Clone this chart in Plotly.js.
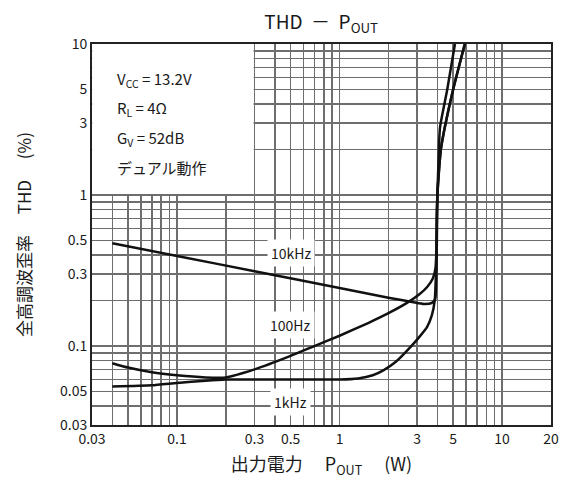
<!DOCTYPE html>
<html>
<head>
<meta charset="utf-8">
<script src="https://cdn.plot.ly/plotly-3.0.1.min.js"></script>
<style>html,body{margin:0;padding:0;background:#fff;}#chart{width:561px;height:490px;}</style>
</head>
<body>
<div id="chart"></div>
<script>
// Series (Pout in W, THD in %)
const x10k = [0.04, 0.1, 0.3, 1.0, 2.0, 2.8, 3.3, 3.7, 3.88, 3.94, 3.97, 4.0, 4.05, 4.15, 4.6, 5.13];
const y10k = [0.48, 0.395, 0.313, 0.242, 0.209, 0.196, 0.19, 0.193, 0.205, 0.3, 0.5, 1.0, 1.5, 2.8, 5.0, 10.0];

const x100 = [0.04, 0.05, 0.07, 0.1, 0.15, 0.2, 0.3, 0.5, 0.7, 1.0, 1.5, 2.0, 2.6, 3.1, 3.46, 3.75, 3.9, 3.95, 3.97, 4.0, 4.1, 4.2, 4.44, 5.0, 5.9];
const y100 = [0.077, 0.072, 0.067, 0.064, 0.062, 0.062, 0.07, 0.086, 0.1, 0.117, 0.142, 0.165, 0.193, 0.22, 0.246, 0.28, 0.33, 0.45, 0.8, 1.0, 1.5, 2.0, 2.8, 5.0, 10.0];

const x1k = [0.04, 0.07, 0.1, 0.15, 0.2, 0.3, 0.5, 1.0, 1.3, 1.6, 1.86, 2.2, 2.72, 3.1, 3.46, 3.7, 3.85, 3.92, 3.96, 4.0, 4.1, 4.2, 4.44, 5.0, 5.9];
const y1k = [0.054, 0.055, 0.057, 0.059, 0.06, 0.06, 0.06, 0.06, 0.061, 0.064, 0.069, 0.078, 0.098, 0.115, 0.134, 0.16, 0.2, 0.3, 0.6, 1.0, 1.5, 2.0, 2.8, 5.0, 10.0];

// Labelled ticks and grid lines
const xTickVals = [0.03, 0.1, 0.3, 0.5, 1, 3, 5, 10, 20];
const xTickText = ['0.03', '0.1', '0.3', '0.5', '1', '3', '5', '10', '20'];
const xGridVals = [0.04,0.05,0.06,0.07,0.08,0.09,0.2,0.4,0.6,0.7,0.8,0.9,2,4,6,7,8,9];
const yTickVals = [0.03, 0.05, 0.1, 0.3, 0.5, 1, 3, 5, 10];
const yTickText = ['0.03', '0.05', '0.1', '0.3', '0.5', '1', '3', '5', '10'];
const yGridVals = [0.04,0.06,0.07,0.08,0.09,0.2,0.4,0.6,0.7,0.8,0.9,2,4,6,7,8,9];

const curveLabels = ['10kHz', '100Hz', '1kHz'];
const labelX = [0.5, 0.5, 0.5];
const labelY = [0.413, 0.138, 0.0426];

const condLines = ['V<sub>CC</sub> = 13.2V', 'R<sub>L</sub> = 4Ω', 'G<sub>V</sub> = 52dB', 'デュアル動作'];
const condY = [0.906, 0.832, 0.753, 0.677];

const FONT = '"Noto Sans CJK JP", "Noto Sans", sans-serif';
const INK = '#1a1a1a';
const lineStyle = {color: '#111', width: 2.5, shape: 'spline', smoothing: 0.5};

const traces = [
  {x: x10k, y: y10k, mode: 'lines', line: lineStyle, name: '10kHz'},
  {x: x100, y: y100, mode: 'lines', line: lineStyle, name: '100Hz'},
  {x: x1k, y: y1k, mode: 'lines', line: lineStyle, name: '1kHz'}
];

const annotations = [];
curveLabels.forEach((t, i) => annotations.push({
  x: Math.log10(labelX[i]), y: Math.log10(labelY[i]), xref: 'x', yref: 'y',
  text: t, showarrow: false, bgcolor: '#fff', borderpad: 3,
  font: {family: FONT, size: 14, color: INK}
}));
condLines.forEach((t, i) => annotations.push({
  x: 0.05, y: condY[i], xref: 'paper', yref: 'paper', xanchor: 'left', yanchor: 'middle',
  text: t, showarrow: false, font: {family: FONT, size: 15, color: INK}
}));

const gridStyle = {showgrid: true, gridcolor: '#6e6e6e', gridwidth: 1.5};

const layout = {
  width: 561, height: 490,
  margin: {l: 92, r: 10, t: 44, b: 65},
  paper_bgcolor: '#fff', plot_bgcolor: '#fff',
  showlegend: false,
  font: {family: FONT, color: INK},
  title: {text: 'THD  －  P<sub>OUT</sub>', x: 0.5725, xanchor: 'center', y: 0.955, yanchor: 'middle',
          font: {family: FONT, size: 19, color: INK}},
  xaxis: Object.assign({
    type: 'log', range: [Math.log10(0.03), Math.log10(20)],
    tickmode: 'array', tickvals: xTickVals, ticktext: xTickText,
    ticks: '',
    minor: Object.assign({tickmode: 'array', tickvals: xGridVals, ticks: ''}, gridStyle),
    showline: true, linecolor: '#222', linewidth: 2, mirror: true, zeroline: false,
    tickfont: {family: FONT, size: 14, color: INK},
    title: {text: '出力電力　 P<sub>OUT</sub>　 (W)', font: {family: FONT, size: 18, color: INK}, standoff: 12}
  }, gridStyle),
  yaxis: Object.assign({
    type: 'log', range: [Math.log10(0.03), Math.log10(10)],
    tickmode: 'array', tickvals: yTickVals, ticktext: yTickText,
    ticks: '',
    minor: Object.assign({tickmode: 'array', tickvals: yGridVals, ticks: ''}, gridStyle),
    showline: true, linecolor: '#222', linewidth: 2, mirror: true, zeroline: false,
    tickfont: {family: FONT, size: 14, color: INK},
    title: {text: '全高調波歪率　 THD　 (%)', font: {family: FONT, size: 17, color: INK}, standoff: 24}
  }, gridStyle),
  shapes: [{
    type: 'rect', xref: 'x', yref: 'y', layer: 'between',
    x0: 0.0301, x1: 0.296, y0: 1.015, y1: 10,
    fillcolor: '#fff', line: {width: 0}
  }],
  annotations: annotations
};

Plotly.newPlot('chart', traces, layout, {displayModeBar: false, staticPlot: true});
</script>
</body>
</html>
